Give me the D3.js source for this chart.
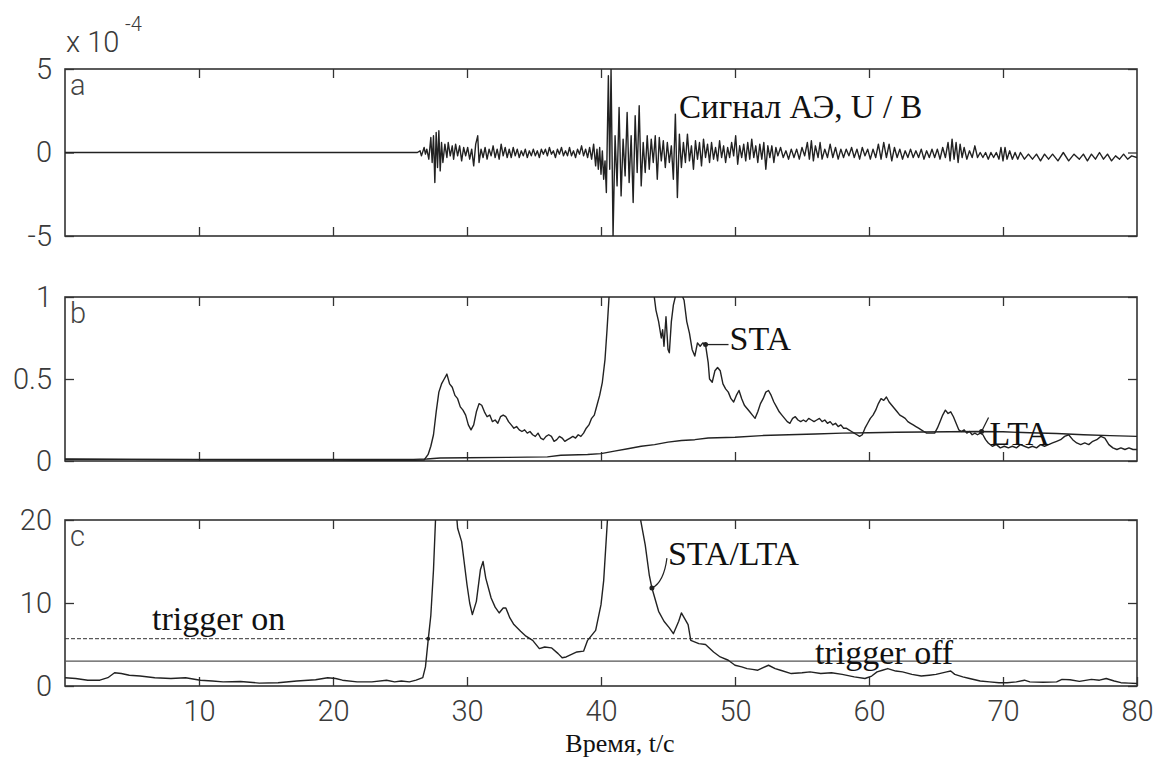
<!DOCTYPE html>
<html><head><meta charset="utf-8">
<script src="https://cdn.jsdelivr.net/npm/d3@7"></script>
<style>
html,body{margin:0;padding:0;background:#fff;}
svg{display:block;}
.tick text{font-family:Roboto,"Liberation Sans",sans-serif;font-weight:300;fill:#3a3a3a;}
</style></head>
<body>
<svg id="chart" width="1160" height="758"></svg>
<script>
// ---------- DATA ----------
const xTicks = [10, 20, 30, 40, 50, 60, 70, 80];
const yTicksA = [-5, 0, 5];
const yTicksB = [0, 0.5, 1];
const yTicksC = [0, 10, 20];
const yLabelsB = ["0", "0.5", "1"];
const triggerOn = 5.7;
const triggerOff = 3.0;

// Panel a: AE signal, units of 1e-4 V  [t, value]
const signalAE = [[0,0],[26.3,0],
[26.5,0.1],[26.6,-0.2],[26.8,0.3],[26.9,-0.1],[27.0,0.2],[27.15,-0.4],[27.3,0.9],[27.4,-0.6],[27.5,1.0],[27.6,-1.8],[27.7,1.2],[27.8,-0.9],[27.9,1.3],[28.0,-1.1],[28.1,0.6],[28.2,-0.6],[28.35,0.5],[28.5,-0.3],[28.6,0.6],[28.75,-0.2],[28.9,0.4],[29.0,-0.4],[29.15,0.5],[29.3,-0.2],[29.45,0.4],[29.6,-0.5],[29.75,0.3],[29.9,-0.2],[30.05,0.3],[30.2,-0.4],[30.35,0.2],[30.5,-0.8],[30.65,0.5],[30.8,1.0],[30.9,-0.6],[31.05,0.2],[31.2,-0.3],[31.35,0.3],[31.5,-0.4],[31.65,0.2],[31.8,-0.2],[31.95,0.4],[32.1,-0.3],[32.25,0.2],[32.4,-0.4],[32.55,0.5],[32.7,-0.2],[32.85,0.3],[33.0,-0.3],[33.15,0.2],[33.3,-0.3],[33.45,0.3],[33.6,-0.2],[33.75,0.2],[33.9,-0.3],[34.05,0.1],[34.2,-0.2],[34.35,0.2],[34.5,-0.3],[34.65,0.1],[34.8,-0.2],[34.95,0.2],[35.1,-0.2],[35.25,0.1],[35.4,-0.3],[35.55,0.2],[35.7,-0.1],[35.85,0.2],[36.0,-0.2],[36.15,0.3],[36.3,-0.1],[36.45,0.1],[36.6,-0.3],[36.75,0.2],[36.9,-0.1],[37.05,0.3],[37.2,-0.2],[37.35,0.1],[37.5,-0.2],[37.65,0.3],[37.8,-0.2],[37.95,0.1],[38.1,-0.3],[38.25,0.2],[38.4,-0.1],[38.55,0.4],[38.7,-0.2],[38.85,0.2],[39.0,-0.3],[39.15,0.3],[39.3,-0.4],[39.45,0.5],[39.6,-0.8],[39.7,0.2],[39.8,-1.0],[39.9,0.3],[40.0,-1.3],[40.1,0.1],[40.2,-1.6],[40.3,-0.5],[40.4,-2.4],[40.55,4.6],[40.65,-1.0],[40.75,5.0],[40.9,-5.0],[41.05,1.0],[41.2,-2.0],[41.35,2.7],[41.5,-2.6],[41.65,0.8],[41.8,-1.4],[41.95,2.4],[42.1,-1.8],[42.25,1.0],[42.4,-3.0],[42.55,2.2],[42.7,-1.2],[42.85,2.8],[43.0,-2.0],[43.15,0.6],[43.3,-1.2],[43.45,1.0],[43.6,-1.0],[43.75,0.8],[43.9,-0.6],[44.05,1.0],[44.2,-1.6],[44.35,0.9],[44.5,-0.5],[44.65,0.7],[44.8,-0.9],[44.95,0.6],[45.1,-0.6],[45.25,0.4],[45.4,-1.6],[45.55,2.3],[45.7,-2.7],[45.85,1.1],[46.0,-0.9],[46.15,0.6],[46.3,-0.6],[46.45,1.1],[46.6,-0.5],[46.75,0.4],[46.9,-1.0],[47.05,0.7],[47.2,-0.4],[47.35,0.6],[47.5,-0.8],[47.65,0.8],[47.8,-0.3],[47.95,0.5],[48.1,-0.6],[48.25,0.6],[48.4,-0.4],[48.55,0.3],[48.7,-0.5],[48.85,0.7],[49.0,-0.3],[49.15,0.4],[49.3,-0.6],[49.45,0.3],[49.6,-0.3],[49.75,0.6],[49.9,-0.2],[50.05,1.0],[50.2,-0.7],[50.35,0.4],[50.5,-0.3],[50.65,0.5],[50.8,-0.5],[50.95,0.6],[51.1,-0.4],[51.25,0.8],[51.4,-0.3],[51.55,0.4],[51.7,-0.6],[51.85,0.5],[52.0,-0.4],[52.15,0.6],[52.3,-1.0],[52.45,0.4],[52.6,-0.3],[52.75,0.4],[52.9,-0.6],[53.05,0.3],[53.2,-0.2],[53.4,0.3],[53.6,-0.3],[53.8,0.1],[54.0,-0.4],[54.2,0.2],[54.4,-0.3],[54.6,0.2],[54.8,-0.4],[55.0,0.3],[55.2,-0.2],[55.4,0.6],[55.55,-0.4],[55.7,0.7],[55.85,-0.5],[56.0,0.4],[56.2,-0.3],[56.35,0.6],[56.5,-0.4],[56.7,0.2],[56.9,-0.3],[57.1,0.5],[57.3,-0.3],[57.5,0.3],[57.7,-0.4],[57.9,0.2],[58.1,-0.3],[58.3,0.2],[58.5,-0.2],[58.7,0.3],[58.9,-0.3],[59.1,0.2],[59.3,-0.4],[59.5,0.3],[59.7,-0.2],[59.9,0.2],[60.1,-0.4],[60.3,0.2],[60.5,-0.3],[60.7,0.5],[60.9,-0.4],[61.1,0.6],[61.3,-0.3],[61.5,0.5],[61.7,-0.5],[61.9,0.3],[62.1,-0.3],[62.3,0.2],[62.5,-0.4],[62.7,0.1],[62.9,-0.3],[63.1,0.2],[63.3,-0.3],[63.5,0.1],[63.7,-0.3],[63.9,0.2],[64.1,-0.4],[64.3,0.1],[64.5,-0.3],[64.7,0.2],[64.9,-0.3],[65.1,0.2],[65.3,-0.4],[65.5,0.3],[65.7,-0.3],[65.9,0.6],[66.05,-0.5],[66.2,0.8],[66.35,-0.4],[66.5,0.6],[66.65,-0.6],[66.8,0.5],[66.95,-0.3],[67.1,0.3],[67.3,-0.4],[67.5,0.1],[67.7,-0.3],[67.9,0.4],[68.1,-0.3],[68.3,0.0],[68.5,-0.3],[68.7,0.0],[68.9,-0.4],[69.1,0.0],[69.3,-0.3],[69.5,0.0],[69.7,-0.4],[69.85,0.3],[70.0,-0.5],[70.15,0.3],[70.3,-0.4],[70.5,0.1],[70.7,-0.4],[70.9,0.0],[71.1,-0.4],[71.3,0.0],[71.6,-0.4],[71.9,-0.1],[72.2,-0.4],[72.5,-0.1],[72.8,-0.5],[73.1,-0.1],[73.4,-0.4],[73.7,-0.1],[74.1,-0.5],[74.5,0.0],[74.9,-0.5],[75.3,-0.1],[75.7,-0.4],[76.0,-0.1],[76.3,-0.5],[76.6,-0.1],[76.9,-0.4],[77.2,0.0],[77.5,-0.4],[77.8,-0.1],[78.1,-0.5],[78.4,-0.2],[78.7,-0.4],[79.0,-0.1],[79.3,-0.4],[79.6,-0.2],[80.0,-0.3]];

// Panel b: STA  [t, value]
const sta = [[0,0.012],[5,0.01],[10,0.008],[15,0.006],[20,0.006],[22,0.004],[24,0.005],[26,0.004],[26.8,0.006],[27.1,0.04],[27.3,0.09],[27.5,0.16],[27.7,0.3],[27.9,0.42],[28.1,0.47],[28.3,0.5],[28.5,0.53],[28.7,0.47],[28.9,0.45],[29.1,0.4],[29.3,0.38],[29.5,0.33],[29.7,0.31],[29.9,0.28],[30.1,0.22],[30.3,0.19],[30.5,0.22],[30.7,0.3],[30.9,0.35],[31.1,0.34],[31.3,0.3],[31.5,0.27],[31.7,0.28],[31.9,0.24],[32.1,0.25],[32.3,0.23],[32.5,0.27],[32.7,0.28],[32.9,0.27],[33.1,0.24],[33.3,0.22],[33.5,0.2],[33.7,0.21],[33.9,0.19],[34.1,0.18],[34.3,0.19],[34.5,0.17],[34.7,0.18],[34.9,0.16],[35.1,0.15],[35.3,0.17],[35.5,0.14],[35.7,0.13],[35.9,0.15],[36.1,0.16],[36.3,0.15],[36.5,0.12],[36.7,0.13],[36.9,0.15],[37.1,0.14],[37.3,0.12],[37.5,0.13],[37.7,0.14],[37.9,0.15],[38.1,0.14],[38.3,0.16],[38.5,0.15],[38.7,0.17],[38.9,0.2],[39.1,0.22],[39.3,0.26],[39.5,0.28],[39.7,0.34],[39.9,0.4],[40.1,0.48],[40.3,0.62],[40.45,0.8],[40.6,1.0],[40.8,1.3],[41.5,1.6],[42.5,1.7],[43.5,1.3],[43.9,1.05],[44.1,0.92],[44.3,0.85],[44.5,0.75],[44.6,0.8],[44.7,0.7],[44.85,0.88],[45.0,0.68],[45.1,0.66],[45.25,0.85],[45.4,0.95],[45.6,1.02],[45.8,1.05],[46.0,1.02],[46.2,0.98],[46.4,0.85],[46.6,0.78],[46.8,0.68],[47.0,0.64],[47.2,0.72],[47.4,0.7],[47.6,0.72],[47.8,0.71],[48.0,0.6],[48.1,0.5],[48.3,0.48],[48.5,0.55],[48.7,0.57],[48.9,0.55],[49.1,0.47],[49.3,0.44],[49.5,0.42],[49.7,0.38],[49.9,0.36],[50.1,0.4],[50.3,0.43],[50.5,0.38],[50.7,0.34],[50.9,0.32],[51.1,0.3],[51.3,0.28],[51.5,0.26],[51.7,0.3],[51.9,0.35],[52.1,0.38],[52.3,0.42],[52.5,0.43],[52.7,0.4],[52.9,0.36],[53.1,0.33],[53.3,0.3],[53.5,0.28],[53.7,0.26],[53.9,0.24],[54.1,0.23],[54.3,0.26],[54.5,0.27],[54.7,0.25],[54.9,0.24],[55.1,0.25],[55.3,0.24],[55.5,0.26],[55.7,0.25],[55.9,0.24],[56.1,0.25],[56.3,0.26],[56.5,0.24],[56.7,0.25],[56.9,0.23],[57.1,0.24],[57.3,0.22],[57.5,0.23],[57.7,0.21],[57.9,0.22],[58.1,0.2],[58.3,0.2],[58.5,0.19],[58.7,0.18],[58.9,0.17],[59.1,0.16],[59.3,0.15],[59.5,0.16],[59.7,0.2],[59.9,0.23],[60.1,0.26],[60.3,0.28],[60.5,0.31],[60.7,0.35],[60.9,0.38],[61.1,0.37],[61.3,0.39],[61.5,0.36],[61.7,0.34],[61.9,0.32],[62.1,0.3],[62.3,0.28],[62.5,0.27],[62.7,0.26],[62.9,0.24],[63.1,0.23],[63.3,0.22],[63.5,0.21],[63.7,0.2],[63.9,0.19],[64.1,0.18],[64.3,0.17],[64.6,0.17],[64.9,0.17],[65.1,0.2],[65.3,0.24],[65.5,0.28],[65.7,0.31],[65.9,0.29],[66.1,0.3],[66.3,0.27],[66.5,0.23],[66.7,0.19],[66.9,0.18],[67.1,0.19],[67.3,0.17],[67.5,0.18],[67.7,0.16],[67.9,0.17],[68.1,0.16],[68.3,0.17],[68.5,0.16],[68.7,0.13],[68.9,0.11],[69.2,0.09],[69.5,0.1],[69.8,0.08],[70.1,0.09],[70.4,0.08],[70.7,0.09],[71,0.08],[71.3,0.1],[71.6,0.09],[71.9,0.08],[72.2,0.09],[72.5,0.08],[72.8,0.1],[73.1,0.09],[73.4,0.1],[73.7,0.11],[74.0,0.12],[74.3,0.13],[74.6,0.15],[74.9,0.16],[75.2,0.13],[75.5,0.11],[75.8,0.1],[76.1,0.11],[76.4,0.1],[76.7,0.12],[77.0,0.13],[77.3,0.15],[77.6,0.14],[77.9,0.1],[78.2,0.08],[78.5,0.07],[78.8,0.08],[79.1,0.07],[79.4,0.08],[79.7,0.07],[80,0.07]];

// Panel b: LTA  [t, value]
const lta = [[0,0.01],[26,0.01],[27,0.012],[28,0.018],[30,0.02],[33,0.022],[36,0.025],[37,0.035],[39,0.04],[40,0.045],[41,0.06],[42,0.075],[43,0.09],[44,0.1],[45,0.115],[46,0.125],[47,0.13],[48,0.14],[50,0.145],[52,0.155],[54,0.16],[56,0.165],[58,0.17],[60,0.172],[62,0.175],[64,0.177],[66,0.178],[68,0.18],[70,0.178],[72,0.172],[74,0.168],[76,0.16],[78,0.155],[80,0.15]];

// Panel c: STA/LTA  [t, value]
const ratio = [[0,1.0],[0.8,0.9],[1.7,0.7],[2.6,0.7],[3.2,1.0],[3.7,1.6],[4.2,1.5],[4.8,1.3],[5.6,1.2],[6.7,1.0],[7.9,0.9],[9.0,1.0],[10.1,0.7],[11.0,0.6],[11.8,0.5],[13.1,0.55],[14.5,0.35],[15.9,0.4],[17.3,0.6],[18.7,0.75],[19.6,1.0],[20.2,0.9],[20.7,0.7],[21.8,0.5],[22.9,0.5],[24,0.7],[24.6,0.5],[25.1,0.6],[25.7,0.5],[26.2,0.7],[26.7,1.0],[26.9,2.3],[27.1,5.5],[27.3,8.5],[27.5,14],[27.7,22],[28.2,28],[29.0,25],[29.3,19],[29.6,17.4],[30.0,12.2],[30.2,10],[30.4,8.6],[30.7,10.2],[31.0,14],[31.2,15],[31.4,13],[31.8,10.6],[32.1,9.5],[32.4,8.8],[32.7,9.4],[32.9,9.4],[33.2,8.2],[33.5,7.4],[34.0,6.6],[34.4,6.0],[34.9,5.5],[35.4,4.5],[35.8,4.7],[36.3,4.6],[36.8,3.9],[37.1,3.4],[37.4,3.5],[37.8,3.8],[38.2,4.1],[38.7,4.2],[39.0,5.5],[39.6,6.7],[40.0,9.8],[40.2,12.7],[40.5,20.5],[41,30],[42.5,30],[42.9,20.5],[43.3,17],[43.6,13.4],[43.8,11.8],[44.3,9],[44.7,7.8],[45.1,7],[45.4,6.3],[45.8,7.8],[46.0,8.8],[46.5,7.4],[46.7,5.5],[47.3,5.1],[47.8,5.0],[48.4,4.1],[48.9,3.5],[49.5,3.1],[50,2.5],[50.5,2.3],[50.9,2.1],[51.3,2.0],[51.7,1.9],[52.1,2.2],[52.5,2.5],[53.0,2.1],[53.4,1.9],[54.2,1.5],[55.0,1.6],[55.6,1.7],[56.4,1.5],[57.2,1.6],[58.0,1.4],[58.9,1.1],[59.7,0.9],[60.2,1.2],[60.6,1.7],[61.0,1.9],[61.4,2.1],[62.0,1.8],[62.5,1.7],[63.2,1.4],[63.9,1.2],[64.5,1.3],[65.0,1.4],[65.8,1.7],[66.1,1.8],[66.4,1.4],[67.0,1.1],[67.5,0.9],[68.3,0.6],[69.0,0.5],[69.7,0.4],[70.3,0.4],[71.0,0.5],[71.6,0.7],[72.0,0.5],[73.0,0.45],[74.0,0.5],[74.4,0.8],[75.0,0.75],[75.7,0.55],[76.6,0.8],[77.2,0.7],[77.7,0.9],[78.3,0.6],[78.8,0.4],[79.4,0.35],[80,0.3]];

// annotation anchor points (data coords)
const staMark = [47.8, 0.71];
const ltaMark = [68.4, 0.18];
const ratioMark = [43.8, 11.8];
const trigMark = [27.1, 5.7];

// ---------- DRAW ----------
const svg = d3.select("#chart");
const X0 = 65, X1 = 1137;
const x = d3.scaleLinear().domain([0, 80]).range([X0, X1]);
const panels = [
  {id:"a", top:69, bottom:236, dom:[-5,5], ticks:yTicksA, labels:yTicksA.map(String)},
  {id:"b", top:297, bottom:461, dom:[0,1], ticks:yTicksB, labels:yLabelsB},
  {id:"c", top:520, bottom:686, dom:[0,20], ticks:yTicksC, labels:yTicksC.map(String)}
];
panels.forEach(p => { p.y = d3.scaleLinear().domain(p.dom).range([p.bottom, p.top]); });

const defs = svg.append("defs");
panels.forEach(p => {
  defs.append("clipPath").attr("id", "clip-" + p.id)
    .append("rect").attr("x", X0).attr("y", p.top).attr("width", X1 - X0).attr("height", p.bottom - p.top);
});

const ink = "#222";
const font = 'Roboto,"Liberation Sans",sans-serif';
const serif = '"Liberation Serif","Times New Roman",serif';
const tickFont = 29;

function styleAxis(g) {
  g.select(".domain").remove();
  g.selectAll(".tick line").attr("stroke", "#333").attr("stroke-width", 1.3);
  g.selectAll(".tick text").style("font-size", tickFont + "px");
}

panels.forEach((p, i) => {
  const g = svg.append("g");
  const bottomAx = i === 2
    ? d3.axisBottom(x).tickValues(xTicks).tickSize(-9).tickPadding(14)
    : d3.axisBottom(x).tickValues(xTicks.slice(0, -1)).tickSize(-9).tickFormat("");
  g.append("g").attr("transform", `translate(0,${p.bottom})`).call(bottomAx).call(styleAxis);
  g.append("g").attr("transform", `translate(0,${p.top})`)
    .call(d3.axisTop(x).tickValues(xTicks.slice(0, -1)).tickSize(-9).tickFormat(""))
    .call(styleAxis);
  g.append("g").attr("transform", `translate(${X0},0)`)
    .call(d3.axisLeft(p.y).tickValues(p.ticks).tickSize(-9).tickPadding(13).tickFormat((d, k) => p.labels[k]))
    .call(styleAxis);
  g.append("g").attr("transform", `translate(${X1},0)`)
    .call(d3.axisRight(p.y).tickValues(p.ticks).tickSize(-9).tickFormat(""))
    .call(styleAxis);
  g.append("rect").attr("x", X0).attr("y", p.top).attr("width", X1 - X0).attr("height", p.bottom - p.top)
    .attr("fill", "none").attr("stroke", "#333").attr("stroke-width", 1.6);
  g.append("text").attr("x", X0 + 5).attr("y", p.top + 26).text(p.id)
    .style("font-family", font).style("font-weight", 300).style("font-size", "29px").attr("fill", "#444");
});

function drawLine(p, data, w) {
  const line = d3.line().x(d => x(d[0])).y(d => p.y(d[1]));
  svg.append("path").datum(data).attr("d", line).attr("clip-path", `url(#clip-${p.id})`)
    .attr("fill", "none").attr("stroke", ink).attr("stroke-width", w).attr("stroke-linejoin", "round");
}
const pa = panels[0], pb = panels[1], pc = panels[2];
drawLine(pa, signalAE, 1.4);
drawLine(pb, lta, 1.4);
drawLine(pb, sta, 1.4);

svg.append("line").attr("x1", X0).attr("x2", X1).attr("y1", pc.y(triggerOn)).attr("y2", pc.y(triggerOn))
  .attr("stroke", "#333").attr("stroke-width", 1).attr("stroke-dasharray", "4,2");
svg.append("line").attr("x1", X0).attr("x2", X1).attr("y1", pc.y(triggerOff)).attr("y2", pc.y(triggerOff))
  .attr("stroke", "#555").attr("stroke-width", 1.1);
drawLine(pc, ratio, 1.4);

// exponent
svg.append("text").attr("x", 66).attr("y", 52).text("x 10")
  .style("font-family", font).style("font-weight", 300).style("font-size", "29px").attr("fill", "#3a3a3a");
svg.append("text").attr("x", 125).attr("y", 31).text("-4")
  .style("font-family", font).style("font-weight", 300).style("font-size", "20px").attr("fill", "#3a3a3a");

function serifText(tx, ty, s, size) {
  svg.append("text").attr("x", tx).attr("y", ty).text(s)
    .style("font-family", serif).style("font-size", size + "px").attr("fill", "#111");
}
serifText(679, 118, "Сигнал АЭ, U / В", 33);

// STA pointer
const sx = x(staMark[0]), sy = pb.y(staMark[1]);
svg.append("circle").attr("cx", sx).attr("cy", sy).attr("r", 2.5).attr("fill", ink);
svg.append("line").attr("x1", sx).attr("y1", sy).attr("x2", sx + 23).attr("y2", sy).attr("stroke", ink).attr("stroke-width", 1.3);
serifText(sx + 24, sy + 5, "STA", 34);

// LTA pointer
const lx = x(ltaMark[0]), ly = pb.y(ltaMark[1]);
svg.append("circle").attr("cx", lx).attr("cy", ly).attr("r", 2.5).attr("fill", ink);
svg.append("line").attr("x1", lx).attr("y1", ly).attr("x2", lx + 7).attr("y2", ly - 14).attr("stroke", ink).attr("stroke-width", 1.2);
serifText(lx + 8, ly + 14, "LTA", 34);

// STA/LTA pointer
const rx = x(ratioMark[0]), ry = pc.y(ratioMark[1]);
svg.append("circle").attr("cx", rx).attr("cy", ry).attr("r", 2.5).attr("fill", ink);
svg.append("path").attr("d", `M${rx},${ry} Q${rx + 12},${ry - 6} ${rx + 15},${ry - 30}`)
  .attr("fill", "none").attr("stroke", ink).attr("stroke-width", 1.2);
serifText(rx + 16, ry - 23, "STA/LTA", 34);

svg.append("circle").attr("cx", x(trigMark[0])).attr("cy", pc.y(trigMark[1])).attr("r", 2).attr("fill", ink);

serifText(152, 630, "trigger on", 34);
serifText(815, 664, "trigger off", 34);

svg.append("text").attr("x", 620).attr("y", 752).attr("text-anchor", "middle").text("Время, t/c")
  .style("font-family", serif).style("font-size", "26px").attr("fill", "#111");
</script>
</body></html>
